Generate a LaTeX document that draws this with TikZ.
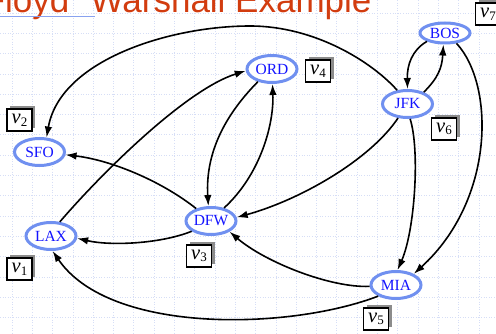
\documentclass[tikz,border=0pt]{standalone}
\usepackage{fontspec}
\setmainfont{Liberation Serif}
\newfontfamily\titlefont{Liberation Sans}
\usetikzlibrary{arrows.meta,shapes.geometric}

\definecolor{airportring}{HTML}{7090F0}
\definecolor{airporttext}{HTML}{1414FF}
\definecolor{titlered}{HTML}{D23C0F}
\definecolor{gridblue}{HTML}{D6DEF6}
\definecolor{ruleblue}{HTML}{88A2F0}
\definecolor{shadowgray}{HTML}{8C8C8C}

\tikzset{
  airport/.style={ellipse, draw=airportring, line width=3pt, fill=white,
    inner sep=0pt, minimum width=50pt, minimum height=27pt,
    text=airporttext, font=\fontsize{15.5}{15.5}\selectfont},
  vbox/.style={draw=black, line width=1.3pt, fill=white,
    minimum width=25pt, minimum height=22pt, inner sep=0pt,
    font=\fontsize{20.5}{20.5}\selectfont},
  vshadow/.style={fill=shadowgray},
  flight/.style={draw=black, line width=1.6pt, -{Latex[length=11pt,width=7.5pt]}},
  gridline/.style={draw=gridblue, line width=0.7pt, dash pattern=on 1pt off 1.6pt},
  titletext/.style={text=titlered, font=\titlefont\fontsize{35}{35}\selectfont, inner sep=0pt}
}
\newcommand{\vname}[1]{\textit{v}\raisebox{-0.28ex}{\fontsize{13}{13}\selectfont #1}}
% a vertex-name box with its shadow offset up and to the right
\newcommand{\vlabel}[4]{%
  \fill[vshadow] ({#2-12.5+3},{#3-11-3}) rectangle ({#2+12.5+3},{#3+11-3});
  \node[vbox] (#1) at (#2,#3) {\vname{#4}};
}

\begin{document}
\begin{tikzpicture}[x=1pt,y=-1pt]
\useasboundingbox (0,0) rectangle (496,334);
\clip (0,0) rectangle (496,334);
\fill[white] (0,0) rectangle (496,334);

% faint background grid
\foreach \k in {0,...,24} {
  \draw[gridline] ({12+20.3*\k},0) -- ({12+20.3*\k},334);
}
\foreach \k in {0,...,16} {
  \draw[gridline] (0,{13+20.3*\k}) -- (496,{13+20.3*\k});
}

% slide heading, partly outside the frame
\node[titletext, anchor=base east] (headA) at (69.5,13) {Floyd};
\node[titletext, anchor=base west] (headB) at (90.5,13) {Warshall Example};
\draw[ruleblue, line width=1.3pt] (0,16.8) -- (95,16.8);

% airports
\node[airport] (sfo) at (39.5,152) {SFO};
\node[airport] (lax) at (51,236) {LAX};
\node[airport] (dfw) at (211,221) {DFW};
\node[airport] (ord) at (272,69) {ORD};
\node[airport] (jfk) at (407.5,104) {JFK};
\node[airport, minimum height=20pt] (bos) at (445,33) {BOS};
\node[airport] (mia) at (396,285) {MIA};

% vertex names
\vlabel{v1}{19.5}{269}{1}
\vlabel{v2}{19.5}{120}{2}
\vlabel{v3}{199}{256}{3}
\vlabel{v4}{318}{71}{4}
\vlabel{v5}{376}{319}{5}
\vlabel{v6}{444}{129}{6}
\vlabel{v7}{488}{14}{7}

% flights
\draw[flight] (lax.58) .. controls (100,175) and (185,90) .. (ord.184);
\draw[flight] (jfk.127) .. controls (372,62) and (315,26) .. (250,26)
                        .. controls (170,26) and (60,60) .. (sfo.64);
\draw[flight] (dfw.140) .. controls (160,180) and (110,160) .. (sfo.354);
\draw[flight] (dfw.208) .. controls (160,244) and (110,246) .. (lax.355);
\draw[flight] (ord.222) .. controls (228,112) and (205,150) .. (dfw.100);
\draw[flight] (dfw.45) .. controls (260,175) and (274,125) .. (ord.272);
\draw[flight] (jfk.236) .. controls (370,160) and (300,200) .. (dfw.8);
\draw[flight] (mia.183) .. controls (330,288) and (265,262) .. (dfw.330);
\draw[flight] (mia.212) .. controls (290,330) and (110,335) .. (lax.276);
\draw[flight] (jfk.280) .. controls (420,150) and (415,230) .. (mia.84);
\draw[flight] (bos.318) .. controls (495,85) and (495,200) .. (mia.32);
\draw[flight] (bos.205) .. controls (412,50) and (407,65) .. (jfk.90);
\draw[flight] (jfk.36) .. controls (438,78) and (442,68) .. (bos.262);
\end{tikzpicture}
\end{document}
